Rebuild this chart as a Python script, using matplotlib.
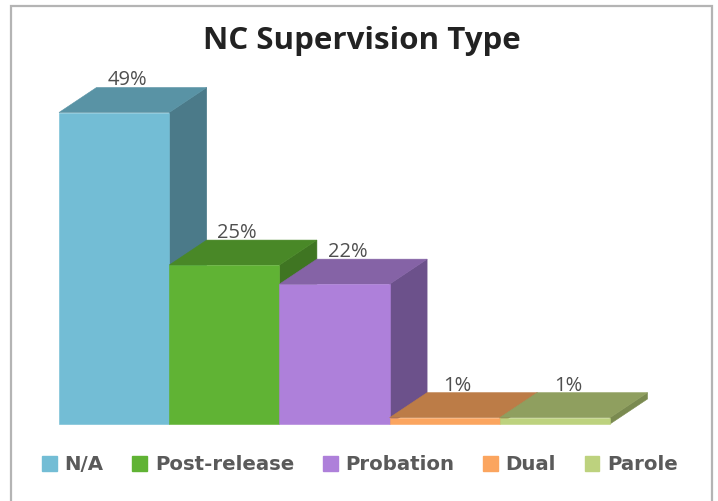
import matplotlib
matplotlib.use("Agg")
import matplotlib.pyplot as plt
from matplotlib.patches import Polygon, Patch, Rectangle

# Chart data
categories = ["N/A", "Post-release", "Probation", "Dual", "Parole"]
values = [49, 25, 22, 1, 1]
labels = ["49%", "25%", "22%", "1%", "1%"]
front_colors = ["#73BDD5", "#60B334", "#AE80DA", "#FBA55F", "#BDD27E"]
top_colors = ["#5993A5", "#498827", "#8563A6", "#BC7C47", "#8F9F5F"]
side_colors = ["#4B7A89", "#3F7522", "#6C518B", "#9C683C", "#7A8A50"]

W, H = 718, 501
fig = plt.figure(figsize=(W / 100, H / 100), dpi=100)
ax = fig.add_axes([0, 0, 1, 1])

# One category is 110.2 px wide, one percent is 6.357 px tall
x_unit = 110.2
y_unit = 6.357
x0_px = 59
y0_px = 424
ax.set_xlim(-x0_px / x_unit, (W - x0_px) / x_unit)
ax.set_ylim(-(H - y0_px) / y_unit, y0_px / y_unit)
ax.axis("off")

# Depth of the fake 3D extrusion
dx = 37.5 / x_unit
dy = 25 / y_unit

# Outer frame
ax.add_patch(Rectangle((10.5 / W, 1 - 520 / H), 701 / W, 514 / H, transform=fig.transFigure,
                       facecolor="none", edgecolor="#B4B4B4", linewidth=1.6, clip_on=False))

# Draw left to right so later bars overlap the sides of earlier ones
for i, v in enumerate(values):
    side = [(i + 1, 0), (i + 1 + dx, dy), (i + 1 + dx, v + dy), (i + 1, v)]
    top = [(i, v), (i + dx, v + dy), (i + 1 + dx, v + dy), (i + 1, v)]
    front = [(i, 0), (i + 1, 0), (i + 1, v), (i, v)]
    ax.add_patch(Polygon(side, facecolor=side_colors[i], edgecolor=side_colors[i], linewidth=0.4))
    ax.add_patch(Polygon(top, facecolor=top_colors[i], edgecolor=top_colors[i], linewidth=0.4))
    ax.add_patch(Polygon(front, facecolor=front_colors[i], edgecolor=front_colors[i], linewidth=0.4))

# Data labels above the back edge
for i, v in enumerate(values):
    ax.text(i + 0.5 + 13 / x_unit, v + dy - 0.45, labels[i], ha="center", va="bottom",
            fontsize=14.5, color="#4F4F4F", family="Open Sans")

fig.text(362 / W, 1 - 41 / H, "NC Supervision Type", ha="center", va="center",
         fontsize=22.5, fontweight="bold", color="#222222", family="Open Sans")

handles = [Patch(facecolor=c, edgecolor=c, label=n) for c, n in zip(front_colors, categories)]
leg = ax.legend(handles=handles, ncol=5, loc="center", bbox_to_anchor=(360 / W, 1 - 465 / H),
                bbox_transform=fig.transFigure, frameon=False, handlelength=0.75, handleheight=0.75,
                handletextpad=0.4, columnspacing=1.45,
                prop={"family": "DejaVu Sans", "weight": "bold", "size": 14.2})
for t in leg.get_texts():
    t.set_color("#5A5A5A")

fig.savefig("out.png", dpi=100)
